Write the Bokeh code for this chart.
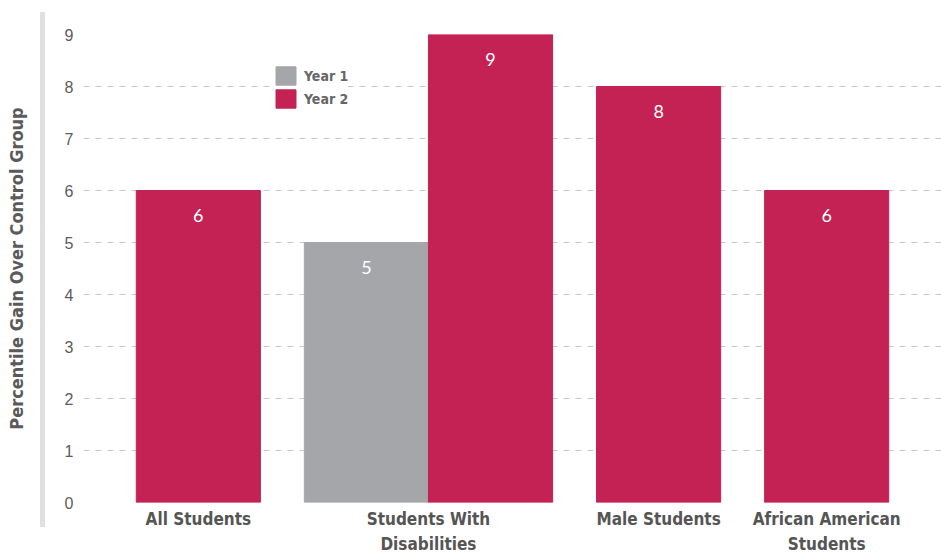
from bokeh.plotting import figure
from bokeh.models import FactorRange, Range1d, SingleIntervalTicker, ColumnDataSource, CustomJSTickFormatter
from bokeh.core.properties import value
from bokeh.embed import file_html
from bokeh.resources import INLINE

# ---- data ----
categories = ["All Students", "Students With\nDisabilities", "Male Students", "African American\nStudents"]
series = ["Year 1", "Year 2"]
year1 = [None, 5, None, None]
year2 = [6, 9, 8, 6]

RED = "#C42254"
GRAY = "#A5A6AA"
TXT = "#555555"
COND = "DejaVu Sans Condensed"

factors = []
for c, a, b in zip(categories, year1, year2):
    if a is not None:
        factors.append((c, "Year 1"))
    if b is not None:
        factors.append((c, "Year 2"))

y1 = dict(x=[(c, "Year 1") for c, v in zip(categories, year1) if v is not None],
          v=[v for v in year1 if v is not None])
y2 = dict(x=[(c, "Year 2") for c, v in zip(categories, year2) if v is not None],
          v=[v for v in year2 if v is not None])
for d in (y1, y2):
    d["t"] = [str(v) for v in d["v"]]
s1 = ColumnDataSource(y1)
s2 = ColumnDataSource(y2)

p = figure(
    x_range=FactorRange(*factors, group_padding=0.354, factor_padding=0.0,
                        range_padding=0.425, range_padding_units="absolute"),
    y_range=Range1d(0, 9),
    width=941, height=556,
    output_backend="svg", toolbar_location=None,
    min_border_left=83, min_border_right=0, min_border_top=34, min_border_bottom=54,
)
p.border_fill_color = None
p.background_fill_color = "white"
p.outline_line_color = None
p.styles = {"background": "linear-gradient(#e0e0e0, #e0e0e0) 40px 12px / 5px 515px no-repeat"}

p.vbar(x="x", top="v", width=1.0, source=s1, color=GRAY, legend_label="Year 1")
p.vbar(x="x", top="v", width=1.0, source=s2, color=RED, legend_label="Year 2")

for s in (s1, s2):
    p.text(x="x", y="v", text="t", source=s, y_offset=25, text_align="center",
           text_baseline="middle", text_color="white", text_font_size="18px",
           text_font=value("Lato"))

# grid
p.xgrid.grid_line_color = None
p.ygrid.grid_line_color = "#c8c8c8"
p.ygrid.grid_line_dash = "6 6"
p.ygrid.grid_line_width = 1

# y axis
p.yaxis.ticker = SingleIntervalTicker(interval=1)
p.yaxis.axis_line_color = None
p.yaxis.major_tick_line_color = None
p.yaxis.minor_tick_line_color = None
p.yaxis.major_label_standoff = 4
p.yaxis.major_label_text_font = "Liberation Sans"
p.yaxis.major_label_text_font_size = "16px"
p.yaxis.major_label_text_color = "#5c5c5c"
p.yaxis.axis_label = "Percentile Gain Over Control Group"
p.yaxis.axis_label_text_font = COND
p.yaxis.axis_label_text_font_style = "bold"
p.yaxis.axis_label_text_font_size = "18px"
p.yaxis.axis_label_text_color = "#5a5a5a"
p.yaxis.axis_label_standoff = 35

# x axis
p.xaxis.axis_line_color = None
p.xaxis.major_tick_line_color = None
p.xaxis.minor_tick_line_color = None
p.xaxis.formatter = CustomJSTickFormatter(code="return ''")
p.xaxis.major_label_text_font_size = "0px"
p.xaxis.major_label_standoff = 0
p.xaxis.separator_line_color = None
p.xaxis.group_text_font = COND
p.xaxis.group_text_font_style = "bold"
p.xaxis.group_text_font_size = "17px"
p.xaxis.group_text_line_height = 1.25
p.xaxis.group_text_color = TXT

# legend
lg = p.legend[0]
lg.location = (190, 392)
lg.padding = 8
lg.spacing = 0
lg.glyph_width = 25
lg.glyph_height = 23
lg.label_standoff = 6
lg.label_text_font = COND
lg.label_text_font_style = "bold"
lg.label_text_font_size = "14px"
lg.label_text_color = "#666666"
lg.border_line_color = None
lg.background_fill_color = "white"
lg.background_fill_alpha = 1.0
lg.margin = 0

open("out.html", "w").write(file_html(p, INLINE))
